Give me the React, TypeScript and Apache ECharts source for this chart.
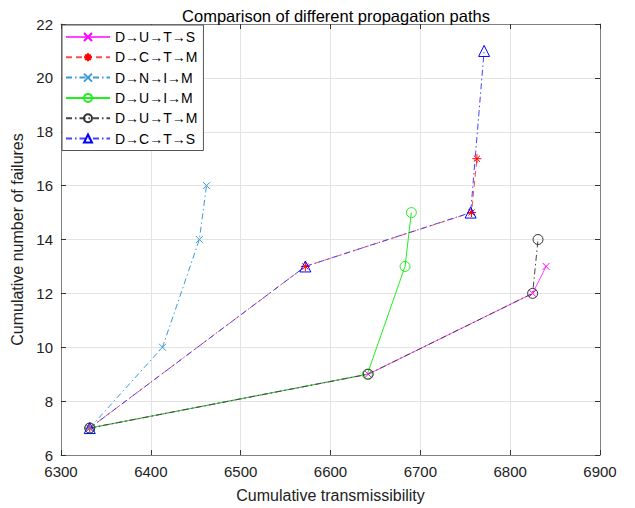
import React, { useEffect, useRef } from "react";
import * as echarts from "echarts";

const seriesNames = ["D→U→T→S", "D→C→T→M", "D→N→I→M", "D→U→I→M", "D→U→T→M", "D→C→T→S"];
const xDUTS = [6332, 6642, 6825, 6840];
const yDUTS = [7, 9, 12, 13];
const xDCTM = [6332, 6572, 6757, 6763];
const yDCTM = [7, 13, 15, 17];
const xDNIM = [6332, 6413, 6454, 6462];
const yDNIM = [7, 10, 14, 16];
const xDUIM = [6332, 6641, 6683, 6690];
const yDUIM = [7, 9, 13, 15];
const xDUTM = [6332, 6642, 6825, 6831];
const yDUTM = [7, 9, 12, 14];
const xDCTS = [6332, 6572, 6756, 6771];
const yDCTS = [7, 13, 15, 21];

const CROSS = "path://M0,0L10,10M10,0L0,10";
const STAR = "path://M5,0L5,10M0,5L10,5M1.6,1.6L8.4,8.4M8.4,1.6L1.6,8.4";
const CIRCLE = "path://M0,5A5,5 0 1,0 10,5A5,5 0 1,0 0,5Z";
const TRI = "path://M5,0L10,9L0,9Z";

const FONT = "Liberation Sans, Arial, Helvetica, sans-serif";

function zip(xs: number[], ys: number[]) {
  return xs.map((x, i) => [x, ys[i]]);
}

export default function App() {
  const ref = useRef<HTMLDivElement>(null);
  useEffect(() => {
    if (!ref.current) return;
    const chart = echarts.init(ref.current, undefined, { renderer: "svg" });
    const defs = [
      { x: xDUTS, y: yDUTS, mark: "#ff00ff", line: "#ff44ff", sym: CROSS, size: 7, type: "solid" as any },
      { x: xDCTM, y: yDCTM, mark: "#ff0000", line: "#ff4d4d", sym: STAR, size: 9, type: [6, 4] },
      { x: xDNIM, y: yDNIM, mark: "#3a9ad9", line: "#3a9ad9", sym: CROSS, size: 7, type: [6, 3, 1.5, 3] },
      { x: xDUIM, y: yDUIM, mark: "#22ee22", line: "#22ee22", sym: CIRCLE, size: 10, type: "solid" },
      { x: xDUTM, y: yDUTM, mark: "#333333", line: "#444444", sym: CIRCLE, size: 10, type: [6, 3, 1.5, 3] },
      { x: xDCTS, y: yDCTS, mark: "#0000ff", line: "#4444ff", sym: TRI, size: 11, type: [6, 3, 1.5, 3] },
    ];
    const series = defs.map((d, i) => ({
      name: seriesNames[i],
      type: "line",
      xAxisIndex: 0,
      yAxisIndex: 0,
      data: zip(d.x, d.y),
      symbol: d.sym,
      symbolSize: d.size,
      showSymbol: true,
      lineStyle: { color: d.line, width: 1, type: d.type },
      itemStyle: { color: "rgba(0,0,0,0)", borderColor: d.mark, borderWidth: 1 },
      emphasis: { disabled: true },
    }));
    const axisLine = { show: true, lineStyle: { color: "#808080", width: 1 } };
    const axisTick = { show: true, inside: true, length: 5, lineStyle: { color: "#333333" } };
    const plain = (v: number) => String(v);
    chart.setOption({
      animation: false,
      backgroundColor: "#ffffff",
      title: {
        text: "Comparison of different propagation paths",
        left: 331,
        top: 2,
        textAlign: "center",
        textStyle: { fontFamily: FONT, fontSize: 16.5, fontWeight: "normal", color: "#000000" },
      },
      legend: {
        left: 62,
        top: 25,
        orient: "vertical",
        itemWidth: 44,
        itemHeight: 10,
        itemGap: 6.3,
        padding: [5, 6, 5, 3],
        backgroundColor: "#ffffff",
        borderColor: "#555555",
        borderWidth: 1,
        borderRadius: 0,
        textStyle: { fontFamily: FONT, fontSize: 14, color: "#000000" },
        data: seriesNames,
      },
      grid: { left: 61, right: 35, top: 24, bottom: 50, show: false },
      xAxis: [
        {
          type: "value",
          min: 6300,
          max: 6900,
          interval: 100,
          name: "Cumulative transmissibility",
          nameLocation: "middle",
          nameGap: 32,
          nameTextStyle: { fontFamily: FONT, fontSize: 16, color: "#222222" },
          axisLine,
          axisTick,
          axisLabel: { fontFamily: FONT, fontSize: 15, color: "#222222", margin: 9, formatter: plain },
          splitLine: { show: true, lineStyle: { color: "#e3e3e3" } },
        },
        {
          type: "value",
          position: "top",
          min: 6300,
          max: 6900,
          interval: 100,
          axisLine,
          axisTick,
          axisLabel: { show: false },
          splitLine: { show: false },
        },
      ],
      yAxis: [
        {
          type: "value",
          min: 6,
          max: 22,
          interval: 2,
          name: "Cumulative number of failures",
          nameLocation: "middle",
          nameGap: 27,
          nameTextStyle: { fontFamily: FONT, fontSize: 16, color: "#222222" },
          axisLine,
          axisTick,
          axisLabel: { fontFamily: FONT, fontSize: 15, color: "#222222", margin: 8, formatter: plain },
          splitLine: { show: true, lineStyle: { color: "#e3e3e3" } },
        },
        {
          type: "value",
          position: "right",
          min: 6,
          max: 22,
          interval: 2,
          axisLine,
          axisTick,
          axisLabel: { show: false },
          splitLine: { show: false },
        },
      ],
      series,
    });
    return () => chart.dispose();
  }, []);
  return <div ref={ref} style={{ width: 635, height: 508, position: "absolute", left: 0, top: 0 }} />;
}
